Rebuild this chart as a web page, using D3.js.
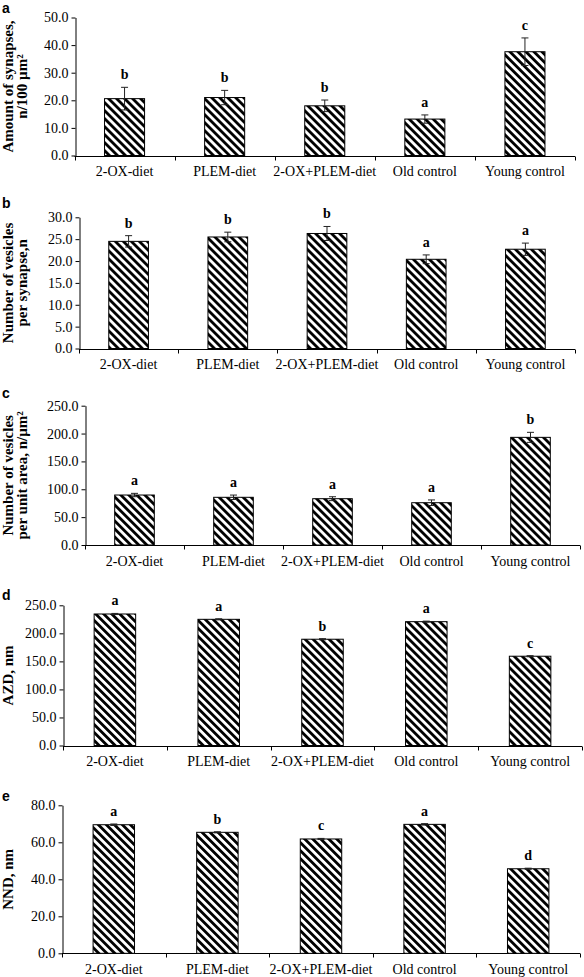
<!DOCTYPE html>
<html><head><meta charset="utf-8">
<script src="https://cdn.jsdelivr.net/npm/d3@7"></script>
<style>
html,body{margin:0;padding:0;background:#fff;}
svg{display:block;}
</style></head>
<body>
<svg id="chart" width="584" height="977"></svg>
<script>
// ---------- DATA ----------
const categories = ["2-OX-diet", "PLEM-diet", "2-OX+PLEM-diet", "Old control", "Young control"];

const synapseMeans   = [20.6, 21.0, 18.0, 13.2, 37.6];
const synapseErrors  = [4.1, 2.6, 2.1, 1.5, 5.0];
const synapseLetters = ["b", "b", "b", "a", "c"];
const synapseTicks   = [0, 10, 20, 30, 40, 50];

const vesicleMeans   = [24.5, 25.5, 26.3, 20.4, 22.7];
const vesicleErrors  = [1.3, 1.1, 1.6, 1.0, 1.4];
const vesicleLetters = ["b", "b", "b", "a", "a"];
const vesicleTicks   = [0, 5, 10, 15, 20, 25, 30];

const densityMeans   = [89.7, 85.6, 83.1, 75.9, 193.2];
const densityErrors  = [3.0, 4.0, 3.5, 5.0, 9.0];
const densityLetters = ["a", "a", "a", "a", "b"];
const densityTicks   = [0, 50, 100, 150, 200, 250];

const azdMeans   = [234.5, 225.0, 189.5, 220.8, 159.2];
const azdErrors  = [1.0, 1.0, 1.0, 1.0, 1.0];
const azdLetters = ["a", "a", "b", "a", "c"];
const azdTicks   = [0, 50, 100, 150, 200, 250];

const nndMeans   = [69.5, 65.4, 61.8, 69.7, 45.7];
const nndErrors  = [0.4, 0.3, 0.3, 0.4, 0.3];
const nndLetters = ["a", "b", "c", "a", "d"];
const nndTicks   = [0, 20, 40, 60, 80];

const panelTags = ["a", "b", "c", "d", "e"];
const yTitles = [
  ["Amount of synapses,", "n/100 µm²"],
  ["Number of vesicles", "per synapse,n"],
  ["Number of vesicles", "per unit area, n/µm²"],
  ["AZD, nm"],
  ["NND, nm"]
];

// ---------- LAYOUT ----------
const layout = [
  {x0: 74.5, x1: 575, top: 17.5,  bottom: 155.5, tagY: 12.5},
  {x0: 79,   x1: 575, top: 217.3, bottom: 348.5, tagY: 208},
  {x0: 85,   x1: 580, top: 405.7, bottom: 545,   tagY: 398},
  {x0: 63,   x1: 582, top: 605.3, bottom: 745.5, tagY: 599.5},
  {x0: 62,   x1: 580, top: 805.3, bottom: 953.3, tagY: 801}
];

const panels = [
  {means: synapseMeans, errs: synapseErrors, letters: synapseLetters, ticks: synapseTicks},
  {means: vesicleMeans, errs: vesicleErrors, letters: vesicleLetters, ticks: vesicleTicks},
  {means: densityMeans, errs: densityErrors, letters: densityLetters, ticks: densityTicks},
  {means: azdMeans, errs: azdErrors, letters: azdLetters, ticks: azdTicks},
  {means: nndMeans, errs: nndErrors, letters: nndLetters, ticks: nndTicks}
];

const serif = "'Liberation Serif','Times New Roman',Times,serif";
const sans = "'Liberation Sans',Arial,Helvetica,sans-serif";

const svg = d3.select("#chart");

// hatch pattern
const defs = svg.append("defs");
const pat = defs.append("pattern")
  .attr("id", "hatch")
  .attr("patternUnits", "userSpaceOnUse")
  .attr("width", 5.66).attr("height", 5.66)
  .attr("patternTransform", "rotate(-45)");
pat.append("rect").attr("width", 5.66).attr("height", 5.66).attr("fill", "#fff");
pat.append("rect").attr("x", 0).attr("y", 0).attr("width", 2.8).attr("height", 5.66).attr("fill", "#000");

panels.forEach((p, i) => {
  const L = layout[i];
  const g = svg.append("g");
  const yMax = p.ticks[p.ticks.length - 1];

  const x = d3.scaleBand().domain(categories).range([L.x0, L.x1]).padding(0);
  const y = d3.scaleLinear().domain([0, yMax]).range([L.bottom, L.top]);

  // y axis
  const yAxis = d3.axisLeft(y)
    .tickValues(p.ticks)
    .tickFormat(d3.format(".1f"))
    .tickSize(4)
    .tickSizeOuter(0)
    .tickPadding(3);
  const ya = g.append("g")
    .attr("transform", `translate(${Math.round(L.x0) + 0.5},0)`)
    .call(yAxis);
  ya.selectAll("text")
    .attr("font-family", serif).attr("font-size", 14).attr("fill", "#000");
  ya.selectAll("line").attr("stroke", "#000");
  ya.select(".domain").attr("stroke", "#000");

  // x axis line
  const yb = Math.round(L.bottom) + 0.5;
  g.append("line")
    .attr("x1", L.x0).attr("x2", L.x1)
    .attr("y1", yb).attr("y2", yb)
    .attr("stroke", "#000");
  // category boundary ticks
  const bounds = categories.map(c => x(c)).concat([x(categories[categories.length - 1]) + x.bandwidth()]);
  g.selectAll(".xt").data(bounds).join("line")
    .attr("x1", d => Math.round(d) + 0.5).attr("x2", d => Math.round(d) + 0.5)
    .attr("y1", yb).attr("y2", yb + 4)
    .attr("stroke", "#000");
  // category labels
  g.selectAll(".xl").data(categories).join("text")
    .attr("x", d => x(d) + x.bandwidth() / 2)
    .attr("y", L.bottom + 20.5)
    .attr("text-anchor", "middle")
    .attr("font-family", serif).attr("font-size", 14).attr("fill", "#000")
    .text(d => d);

  const bw = x.bandwidth() * 0.4;
  const data = categories.map((c, k) => ({c, v: p.means[k], e: p.errs[k], l: p.letters[k]}));

  // bars
  g.selectAll(".bar").data(data).join("rect")
    .attr("x", d => x(d.c) + x.bandwidth() / 2 - bw / 2)
    .attr("y", d => y(d.v))
    .attr("width", bw)
    .attr("height", d => y(0) - y(d.v))
    .attr("fill", "url(#hatch)")
    .attr("stroke", "#000").attr("stroke-width", 1);

  // error bars
  const eg = g.selectAll(".err").data(data).join("g");
  eg.append("line")
    .attr("x1", d => x(d.c) + x.bandwidth() / 2).attr("x2", d => x(d.c) + x.bandwidth() / 2)
    .attr("y1", d => y(d.v + d.e)).attr("y2", d => y(d.v - d.e))
    .attr("stroke", "#222").attr("stroke-width", 1);
  eg.append("line")
    .attr("x1", d => x(d.c) + x.bandwidth() / 2 - 3.5).attr("x2", d => x(d.c) + x.bandwidth() / 2 + 3.5)
    .attr("y1", d => y(d.v + d.e)).attr("y2", d => y(d.v + d.e))
    .attr("stroke", "#222").attr("stroke-width", 1);
  eg.append("line")
    .attr("x1", d => x(d.c) + x.bandwidth() / 2 - 3.5).attr("x2", d => x(d.c) + x.bandwidth() / 2 + 3.5)
    .attr("y1", d => y(d.v - d.e)).attr("y2", d => y(d.v - d.e))
    .attr("stroke", "#222").attr("stroke-width", 1);

  // significance letters
  g.selectAll(".let").data(data).join("text")
    .attr("x", d => x(d.c) + x.bandwidth() / 2)
    .attr("y", d => y(d.v + d.e) - 8)
    .attr("text-anchor", "middle")
    .attr("font-family", serif).attr("font-weight", "bold").attr("font-size", 14)
    .attr("fill", "#000")
    .text(d => d.l);

  // y title
  const cy = (L.top + L.bottom) / 2;
  const lines = yTitles[i];
  const tg = g.append("text")
    .attr("transform", `translate(0,${cy}) rotate(-90)`)
    .attr("text-anchor", "middle")
    .attr("font-family", serif).attr("font-weight", "bold").attr("font-size", 15)
    .attr("fill", "#000");
  lines.forEach((ln, k) => {
    tg.append("tspan").attr("x", 0).attr("y", 13 + k * 14).text(ln);
  });

  // panel tag
  g.append("text")
    .attr("x", 2).attr("y", L.tagY)
    .attr("font-family", sans).attr("font-weight", "bold").attr("font-size", 14)
    .attr("fill", "#000")
    .text(panelTags[i]);
});
</script>
</body></html>
